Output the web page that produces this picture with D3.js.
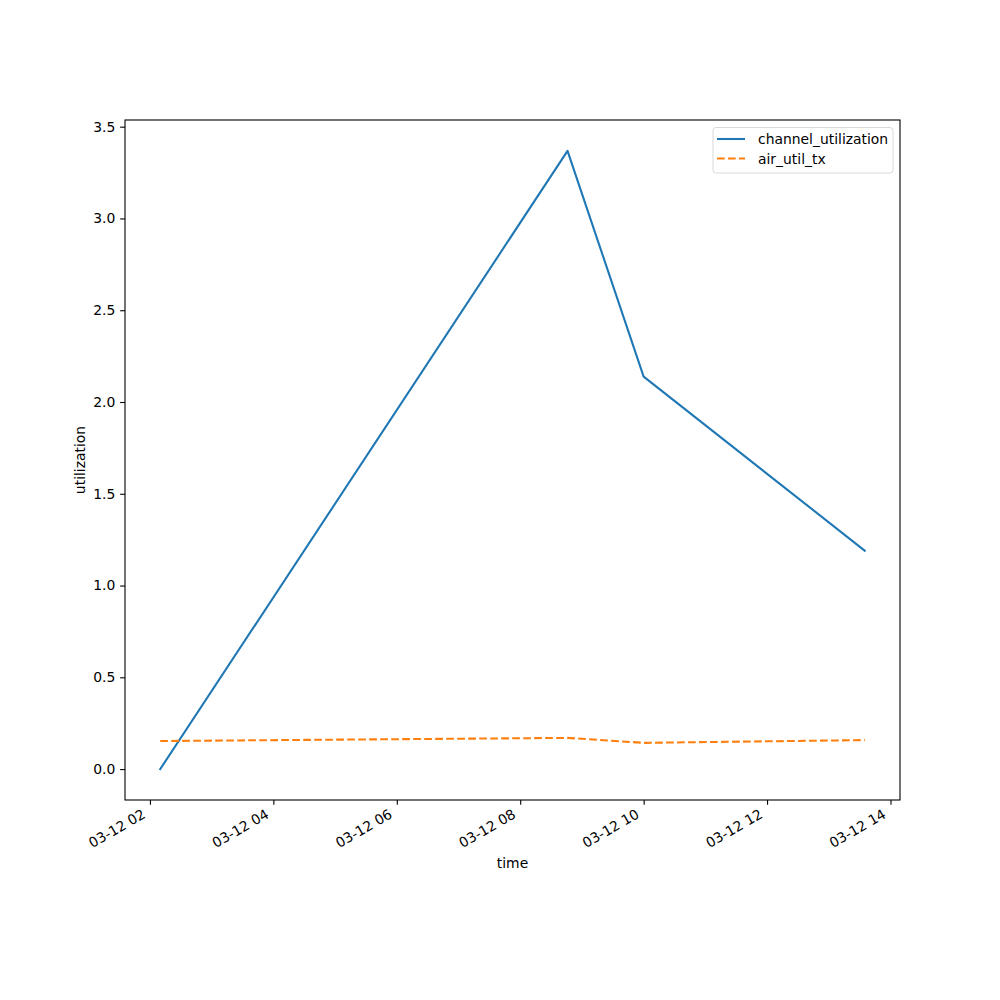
<!DOCTYPE html>
<html><head><meta charset="utf-8">
<script src="https://cdn.jsdelivr.net/npm/d3@7"></script>
<style>body{margin:0;background:#fff}svg{display:block}text{font-family:"DejaVu Sans";fill:#000}</style>
</head><body><svg id="c" width="1000" height="1000"></svg>
<script>
const times = ["2024-03-12T02:10:00Z","2024-03-12T08:46:00Z","2024-03-12T10:00:00Z","2024-03-12T13:35:00Z"];
const channelUtilization = [0.0, 3.368, 2.138, 1.19];
const airUtilTx = [0.153, 0.170, 0.143, 0.158];
const yTicks = [0.0,0.5,1.0,1.5,2.0,2.5,3.0,3.5];
const seriesNames = ["channel_utilization","air_util_tx"];
const colors = ["#1f77b4","#ff7f0e"];

const svg = d3.select("#c");
const L=125,R=900,T=120,B=800;
const dates = times.map(t=>new Date(t));
const ext = d3.extent(dates);
const span = ext[1]-ext[0];
const x = d3.scaleUtc().domain([new Date(+ext[0]-span*0.05), new Date(+ext[1]+span*0.05)]).range([L,R]);
const allY = channelUtilization.concat(airUtilTx);
const ymin=d3.min(allY), ymax=d3.max(allY), yr=ymax-ymin;
const y = d3.scaleLinear().domain([ymin-yr*0.05, ymax+yr*0.05]).range([B,T]);

const line = d3.line().x((d,i)=>x(dates[i])).y(d=>y(d));
svg.append("path").attr("d",line(channelUtilization)).attr("fill","none").attr("stroke",colors[0]).attr("stroke-width",2.08).attr("stroke-linejoin","round").attr("stroke-linecap","square");
svg.append("path").attr("d",line(airUtilTx)).attr("fill","none").attr("stroke",colors[1]).attr("stroke-width",2.08).attr("stroke-dasharray","7.7,3.3").attr("stroke-linejoin","round");

// axes
const xAxis = d3.axisBottom(x).ticks(d3.utcHour.every(2)).tickFormat(d3.utcFormat("%m-%d %H")).tickSize(4.86).tickPadding(2);
const gx = svg.append("g").attr("transform",`translate(0,${B})`).call(xAxis);
gx.select(".domain").remove();
gx.selectAll(".tick line").attr("stroke","#000").attr("stroke-width",1.1);
gx.selectAll(".tick text").attr("font-size","13.9px").attr("text-anchor","end").attr("dy",null)
  .attr("transform","translate(-4,17) rotate(-30)").attr("y",0).attr("x",0).attr("dominant-baseline","auto");

const yAxis = d3.axisLeft(y).tickValues(yTicks).tickFormat(d3.format(".1f")).tickSize(4.86).tickPadding(4.86);
const gy = svg.append("g").attr("transform",`translate(${L},0)`).call(yAxis);
gy.select(".domain").remove();
gy.selectAll(".tick line").attr("stroke","#000").attr("stroke-width",1.1);
gy.selectAll(".tick text").attr("font-size","13.9px");

svg.append("rect").attr("x",L).attr("y",T).attr("width",R-L).attr("height",B-T).attr("fill","none").attr("stroke","#000").attr("stroke-width",1.1);

svg.append("text").attr("x",(L+R)/2).attr("y",868).attr("text-anchor","middle").attr("font-size","13.9px").text("time");
svg.append("text").attr("transform",`translate(85,${(T+B)/2}) rotate(-90)`).attr("text-anchor","middle").attr("font-size","13.9px").text("utilization");

// legend
const lg = svg.append("g");
lg.append("rect").attr("x",713).attr("y",127.5).attr("width",180).attr("height",45.5).attr("rx",3).attr("fill","#fff").attr("stroke","#d9d9d9").attr("stroke-width",1);
seriesNames.forEach((n,i)=>{
  const yy = 139+i*19.5;
  lg.append("line").attr("x1",717).attr("x2",745).attr("y1",yy).attr("y2",yy).attr("stroke",colors[i]).attr("stroke-width",2.08)
    .attr("stroke-dasharray", i===1?"7.7,3.3":null);
  lg.append("text").attr("x",758).attr("y",yy+5).attr("font-size","13.9px").text(n);
});
</script></body></html>
